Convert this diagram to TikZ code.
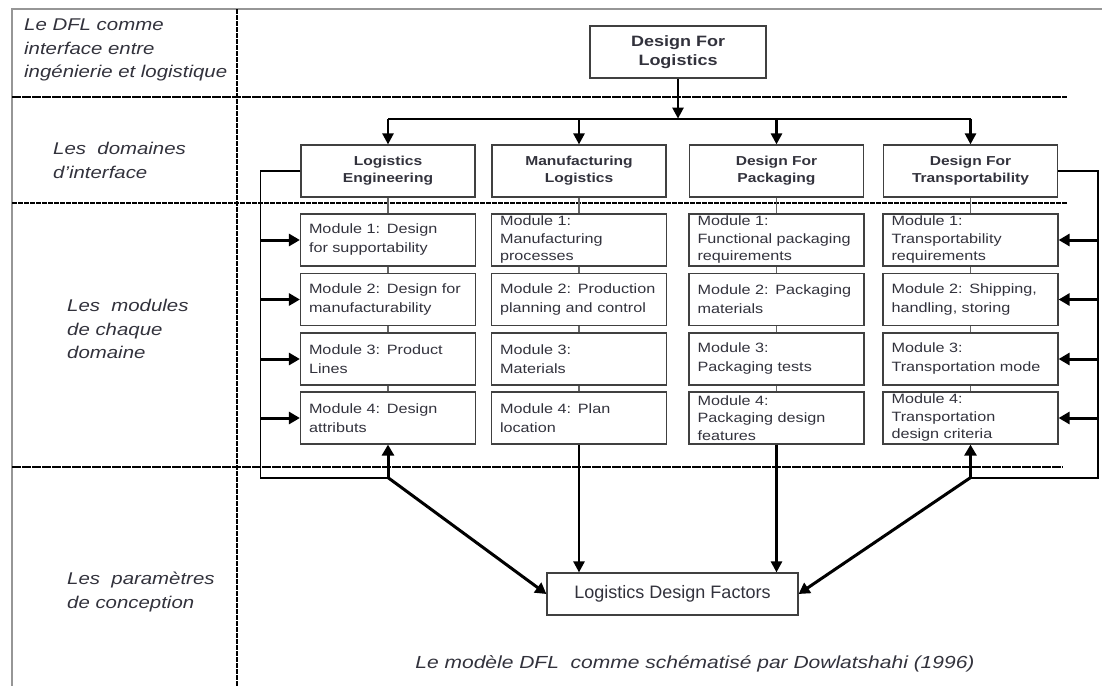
\documentclass[tikz,border=0pt]{standalone}
\usepackage{fontspec}
\setmainfont{Liberation Sans}[FakeStretch=1.2]
\newfontfamily\plainsans{Liberation Sans}
\usetikzlibrary{arrows.meta}
\definecolor{ink}{RGB}{50,50,60}
\definecolor{frame}{RGB}{150,150,150}
\tikzset {
    style top/.style={
        draw=black!75,
        line width=1.2pt,
        rectangle, % Set the shape as a rectangle
        minimum width=176pt,
        minimum height=52pt,
        align=center,
        text=ink,
        font=\bfseries\fontsize{15}{19}\selectfont,
    },
    style domain/.style={
        draw=black!75,
        line width=1.2pt,
        rectangle, % Set the shape as a rectangle
        minimum width=174pt,
        minimum height=52pt,
        align=center,
        text=ink,
        font=\bfseries\fontsize{13}{17}\selectfont,
    },
    style module/.style={
        draw=black!75,
        line width=1.2pt,
        rectangle, % Set the shape as a rectangle
        text width=158pt,
        inner xsep=8.5pt,
        inner ysep=1pt,
        minimum height=52pt,
        align=left,
        text=ink,
        font=\fontsize{13.5}{19}\selectfont,
    },
    style tight/.style={
        inner ysep=0pt,
        font=\fontsize{13.5}{17.5}\selectfont,
    },
    style factors/.style={
        draw=black!75,
        line width=1.2pt,
        rectangle, % Set the shape as a rectangle
        minimum width=251pt,
        minimum height=42pt,
        text=ink,
        font=\plainsans\fontsize{18}{22}\selectfont,
    },
    style label/.style={
        anchor=north west,
        inner sep=0pt,
        align=left,
        text=ink,
        font=\itshape\fontsize{17}{23.5}\selectfont,
    },
    style link/.style={draw=black!60, line width=1.5pt},
    style loop/.style={draw=black, line width=1.8pt},
    style arrow/.style={draw=black, line width=2.5pt, -{Triangle[length=11pt,width=11pt]}},
    style feed/.style={draw=black, line width=3pt, -{Triangle[length=11pt,width=12pt]}},
    style rule/.style={draw=black, line width=1.6pt, dash pattern=on 9pt off 1pt},
}

\begin{document}
\begin{tikzpicture}[x=1pt, y=-1pt]
        \useasboundingbox (0,0) rectangle (1102,686);

        % frame and rows
        \draw[frame, line width=2pt] (1102,9) -- (12,9) -- (12,686);
        \draw[style rule, line width=2pt, dash pattern=on 5pt off 1pt] (237,9) -- (237,686);
        \draw[style rule] (12,97) -- (1067,97);
        \draw[style rule, line width=2.6pt, dash pattern=on 5pt off 1pt] (12,203) -- (1067,203);
        \draw[style rule] (12,467) -- (1063,467);

        \node[style label] at (24,19) (lab1) {Le DFL comme\\interface entre\\ingénierie et logistique};
        \node[style label] at (53,142) (lab2) {Les\ \ domaines\\d'interface};
        \node[style label] at (67,299) (lab3) {Les\ \ modules\\de chaque\\domaine};
        \node[style label] at (67,572) (lab4) {Les\ \ paramètres\\de conception};

        \node[style top] at (678,52) (dfl) {Design For\\Logistics};

        \node[style domain] at (388,171) (d1) {Logistics\\Engineering};
        \node[style domain] at (579,171) (d2) {Manufacturing\\Logistics};
        \node[style domain] at (776.5,171) (d3) {Design For\\Packaging};
        \node[style domain] at (970.5,171) (d4) {Design For\\Transportability};

        \node[style module] at (388,240) (le1) {Module 1: Design\\for supportability};
        \node[style module] at (388,299.5) (le2) {Module 2: Design for\\manufacturability};
        \node[style module] at (388,359) (le3) {Module 3: Product\\Lines};
        \node[style module] at (388,418) (le4) {Module 4: Design\\attributs};

        \node[style module, style tight] at (579,240) (ml1) {Module 1:\\Manufacturing\\processes};
        \node[style module] at (579,299.5) (ml2) {Module 2: Production\\planning and control};
        \node[style module] at (579,359) (ml3) {Module 3:\\Materials};
        \node[style module] at (579,418) (ml4) {Module 4: Plan\\location};

        \node[style module, style tight] at (776.5,240) (fp1) {Module 1:\\Functional packaging\\requirements};
        \node[style module] at (776.5,299.5) (fp2) {Module 2: Packaging\\materials};
        \node[style module] at (776.5,359) (fp3) {Module 3:\\Packaging tests};
        \node[style module, style tight] at (776.5,418) (fp4) {Module 4:\\Packaging design\\features};

        \node[style module, style tight] at (970.5,240) (ft1) {Module 1:\\Transportability\\requirements};
        \node[style module] at (970.5,299.5) (ft2) {Module 2: Shipping,\\handling, storing};
        \node[style module] at (970.5,359) (ft3) {Module 3:\\Transportation mode};
        \node[style module, style tight] at (970.5,418) (ft4) {Module 4:\\Transportation\\design criteria};

        \node[style factors] at (672.5,594) (ldf) {Logistics Design Factors};

        \node[text=ink, font=\itshape\fontsize{17.5}{20}\selectfont] at (695,664) (caption)
            {Le modèle DFL\ \ comme schématisé par Dowlatshahi (1996)};

        % top tree
        \coordinate (hub) at ([yshift=-40pt]dfl.south);
        \draw[style arrow] (dfl.south) -- (hub);
        \draw[style loop] (d1.north |- hub) -- (d4.north |- hub);
        \foreach \d in {d1,d2,d3,d4}
            \draw[style arrow] (\d.north |- hub) -- (\d.north);

        % columns
        \foreach \a/\b in {d1/le1,le1/le2,le2/le3,le3/le4,
                           d2/ml1,ml1/ml2,ml2/ml3,ml3/ml4,
                           d3/fp1,fp1/fp2,fp2/fp3,fp3/fp4,
                           d4/ft1,ft1/ft2,ft2/ft3,ft3/ft4}
            \draw[style link] (\a) -- (\b);

        % feedback loops
        \coordinate (lrail) at ([xshift=-40pt]d1.west);
        \coordinate (rrail) at ([xshift=40pt]d4.east);
        \coordinate (lfoot) at ([yshift=-33pt]le4.south);
        \coordinate (rfoot) at ([yshift=-33pt]ft4.south);
        \draw[style loop] (d1.west) -- (lrail) |- (lfoot);
        \draw[style loop] (d4.east) -- (rrail) |- (rfoot);
        \foreach \m in {le1,le2,le3,le4}
            \draw[style feed] (lrail |- \m.west) -- (\m.west);
        \foreach \m in {ft1,ft2,ft3,ft4}
            \draw[style feed] (rrail |- \m.east) -- (\m.east);

        % design factors
        \draw[style feed] (lfoot) -- (le4.south);
        \draw[style feed] (rfoot) -- (ft4.south);
        \draw[style feed] (lfoot) -- (ldf.west);
        \draw[style feed] (rfoot) -- (ldf.east);
        \draw[style arrow] (ml4.south) -- (ml4.south |- ldf.north);
        \draw[style arrow] (fp4.south) -- (fp4.south |- ldf.north);
    \end{tikzpicture}
\end{document}
